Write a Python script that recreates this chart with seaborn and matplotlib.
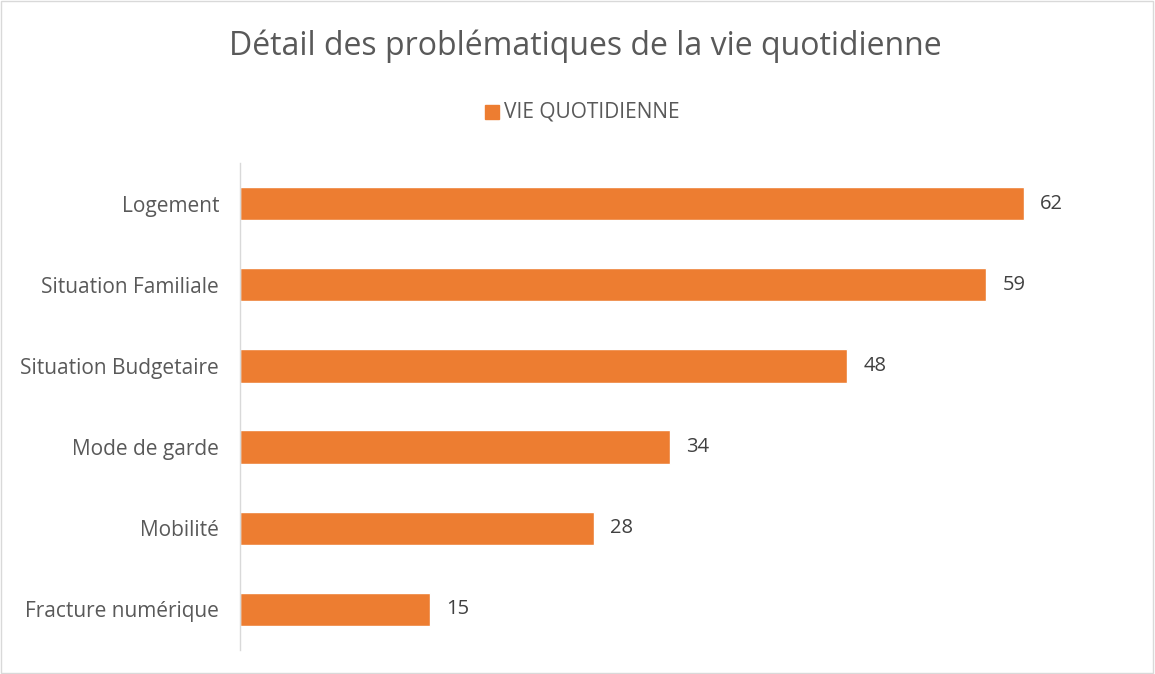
import matplotlib
matplotlib.use("Agg")
import matplotlib.pyplot as plt
import seaborn as sns
import pandas as pd
from matplotlib.patches import Rectangle

# data
categories = ["Logement", "Situation Familiale", "Situation Budgetaire",
              "Mode de garde", "Mobilité", "Fracture numérique"]
values = [62, 59, 48, 34, 28, 15]
series_name = "VIE QUOTIDIENNE"

df = pd.DataFrame({"categorie": categories, "valeur": values})

sns.set_style("white")
plt.rcParams['font.family'] = ['Open Sans', 'DejaVu Sans']

orange = "#ED7D31"
grey = "#595959"

fig = plt.figure(figsize=(11.55, 6.74), dpi=100)
ax = fig.add_axes([0.2078, 0.0356, 0.7662, 0.7225])

sns.barplot(data=df, x="valeur", y="categorie", color=orange, width=0.41,
            saturation=1, ax=ax)

ax.set_xlim(0, 70)
ax.set_xlabel("")
ax.set_ylabel("")
ax.set_xticks([])
for s in ["top", "right", "bottom"]:
    ax.spines[s].set_visible(False)
ax.spines["left"].set_color("#D9D9D9")
ax.spines["left"].set_linewidth(1)
ax.tick_params(axis="y", length=0, pad=15, labelsize=15, labelcolor=grey)

for i, v in enumerate(values):
    ax.text(v + 1.3, i, str(v), va="center", ha="left", fontsize=14.5, color="#404040")

fig.text(0.507, 0.9184, "Détail des problématiques de la vie quotidienne",
         ha="center", va="baseline", fontsize=23, color=grey)

# legend
fig.patches.append(Rectangle((0.4199, 0.8234), 0.0121, 0.0208,
                             transform=fig.transFigure, color=orange))
fig.text(0.4364, 0.8338, series_name, ha="left", va="center", fontsize=15, color=grey)

# chart border
fig.patches.append(Rectangle((0.001, 0.001), 0.997, 0.997, transform=fig.transFigure,
                             fill=False, edgecolor="#D9D9D9", linewidth=1))

fig.savefig("out.png", dpi=100)
